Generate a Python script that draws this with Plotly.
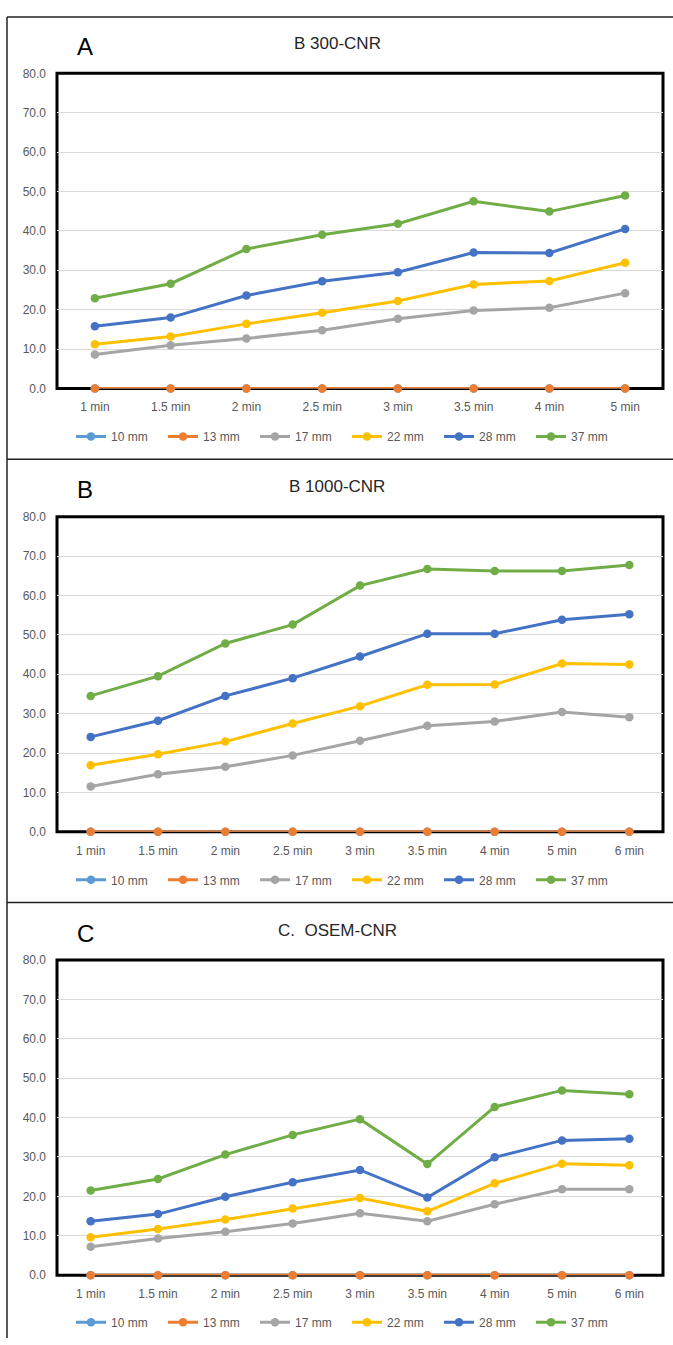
import plotly.graph_objects as go

W, H = 673, 1345

cats_a = ["1 min", "1.5 min", "2 min", "2.5 min", "3 min", "3.5 min", "4 min", "5 min"]
cats_bc = ["1 min", "1.5 min", "2 min", "2.5 min", "3 min", "3.5 min", "4 min", "5 min", "6 min"]

series_names = ["10 mm", "13 mm", "17 mm", "22 mm", "28 mm", "37 mm"]
series_colors = ["#5B9BD5", "#ED7D31", "#A5A5A5", "#FFC000", "#4472C4", "#70AD47"]

# Panel A: B 300-CNR
a_10 = [0, 0, 0, 0, 0, 0, 0, 0]
a_13 = [0, 0, 0, 0, 0, 0, 0, 0]
a_17 = [8.6, 11.0, 12.7, 14.8, 17.7, 19.8, 20.5, 24.2]
a_22 = [11.2, 13.2, 16.4, 19.2, 22.2, 26.4, 27.3, 31.9]
a_28 = [15.8, 18.0, 23.6, 27.2, 29.5, 34.5, 34.4, 40.5]
a_37 = [22.9, 26.6, 35.4, 39.0, 41.8, 47.5, 44.9, 49.0]

# Panel B: B 1000-CNR
b_10 = [0, 0, 0, 0, 0, 0, 0, 0, 0]
b_13 = [0, 0, 0, 0, 0, 0, 0, 0, 0]
b_17 = [11.5, 14.6, 16.5, 19.4, 23.1, 26.9, 28.0, 30.4, 29.1]
b_22 = [16.9, 19.7, 22.9, 27.5, 31.9, 37.3, 37.4, 42.7, 42.5]
b_28 = [24.1, 28.2, 34.5, 39.0, 44.5, 50.3, 50.3, 53.8, 55.2]
b_37 = [34.5, 39.5, 47.8, 52.6, 62.5, 66.7, 66.2, 66.2, 67.7]

# Panel C: OSEM-CNR
c_10 = [0, 0, 0, 0, 0, 0, 0, 0, 0]
c_13 = [0, 0, 0, 0, 0, 0, 0, 0, 0]
c_17 = [7.2, 9.3, 11.0, 13.1, 15.7, 13.7, 18.0, 21.8, 21.8]
c_22 = [9.6, 11.7, 14.1, 16.9, 19.6, 16.2, 23.3, 28.3, 27.9]
c_28 = [13.7, 15.5, 19.9, 23.6, 26.7, 19.7, 29.9, 34.2, 34.6]
c_37 = [21.5, 24.4, 30.6, 35.6, 39.6, 28.2, 42.7, 46.9, 45.9]

panels = [
    dict(cats=cats_a, data=[a_10, a_13, a_17, a_22, a_28, a_37], letter="A", title="B 300-CNR",
         top=67, bottom=385.5, letter_y=40, title_y=37, legend_y=434),
    dict(cats=cats_bc, data=[b_10, b_13, b_17, b_22, b_28, b_37], letter="B", title="B 1000-CNR",
         top=515, bottom=833.5, letter_y=488, title_y=485, legend_y=882),
    dict(cats=cats_bc, data=[c_10, c_13, c_17, c_22, c_28, c_37], letter="C", title="C.\u00a0 OSEM-CNR",
         top=963, bottom=1281.5, letter_y=936, title_y=933, legend_y=1329),
]

FONT = "Liberation Sans Narrow, Arial Narrow, Liberation Sans, Arial, sans-serif"
TICK_COLOR = "#595959"

def py(p):
    return 1 - p / H

def px(p):
    return p / W

fig = go.Figure()
layout = dict(
    width=W, height=H,
    margin=dict(l=0, r=0, t=0, b=0),
    paper_bgcolor="white", plot_bgcolor="white",
    showlegend=True,
    annotations=[], shapes=[],
    font=dict(family=FONT, color=TICK_COLOR, size=11),
)

x_left, x_right = 57, 663

for i, p in enumerate(panels, start=1):
    sfx = "" if i == 1 else str(i)
    xa, ya = "x" + sfx, "y" + sfx
    leg = "legend" + sfx
    n = len(p["cats"])
    for name, color, vals in zip(series_names, series_colors, p["data"]):
        fig.add_trace(go.Scatter(
            x=p["cats"], y=vals, name=name, mode="lines+markers",
            line=dict(color=color, width=3),
            marker=dict(color=color, size=8.5),
            xaxis=xa, yaxis=ya, legend=leg, cliponaxis=False,
        ))
    layout["xaxis" + sfx] = dict(
        domain=[px(x_left), px(x_right)], anchor=ya, type="category",
        range=[-0.5, n - 0.5], showgrid=False, zeroline=False, showline=False,
        ticks="", ticklabelstandoff=10, tickfont=dict(size=12, color=TICK_COLOR, family=FONT),
        fixedrange=True,
    )
    layout["yaxis" + sfx] = dict(
        domain=[py(p["bottom"]), py(p["top"])], anchor=xa,
        range=[0, 80], dtick=10, tickformat=".1f",
        showgrid=True, gridcolor="#D9D9D9", gridwidth=1,
        zeroline=False, showline=False, ticks="", ticklabelstandoff=10,
        tickfont=dict(size=12, color=TICK_COLOR, family=FONT), fixedrange=True,
    )
    layout[leg] = dict(
        orientation="h", x=px(347), xanchor="center", y=py(p["legend_y"]), yanchor="middle",
        font=dict(size=12, color=TICK_COLOR, family=FONT),
        bgcolor="rgba(0,0,0,0)", itemwidth=30, tracegroupgap=0,
        entrywidth=47, entrywidthmode="pixels",
    )
    # plot frame
    layout["shapes"].append(dict(
        type="rect", xref=xa + " domain", yref=ya + " domain", x0=0, x1=1, y0=0, y1=1,
        line=dict(color="black", width=3), layer="below",
    ))
    layout["annotations"].append(dict(
        text=p["letter"], x=px(85), y=py(p["letter_y"]), xref="paper", yref="paper",
        showarrow=False, xanchor="center", yanchor="middle",
        font=dict(size=24, color="black", family=FONT),
    ))
    layout["annotations"].append(dict(
        text=p["title"], x=px(337), y=py(p["title_y"]), xref="paper", yref="paper",
        showarrow=False, xanchor="center", yanchor="middle",
        font=dict(size=17, color="#262626", family=FONT),
    ))

# outer page lines
for (x0, y0, x1, y1) in [(7, 10, 673, 10), (7, 10, 7, 1345), (7, 457, 673, 457), (7, 905, 673, 905)]:
    layout["shapes"].append(dict(
        type="line", xref="paper", yref="paper",
        x0=px(x0), y0=py(y0), x1=px(x1), y1=py(y1),
        line=dict(color="#222222", width=1.5),
    ))

fig.update_layout(**layout)
fig.write_html(
    "out.html",
    config={"displayModeBar": False},
    post_script="document.body.style.margin='0';document.body.style.overflow='hidden';",
)
